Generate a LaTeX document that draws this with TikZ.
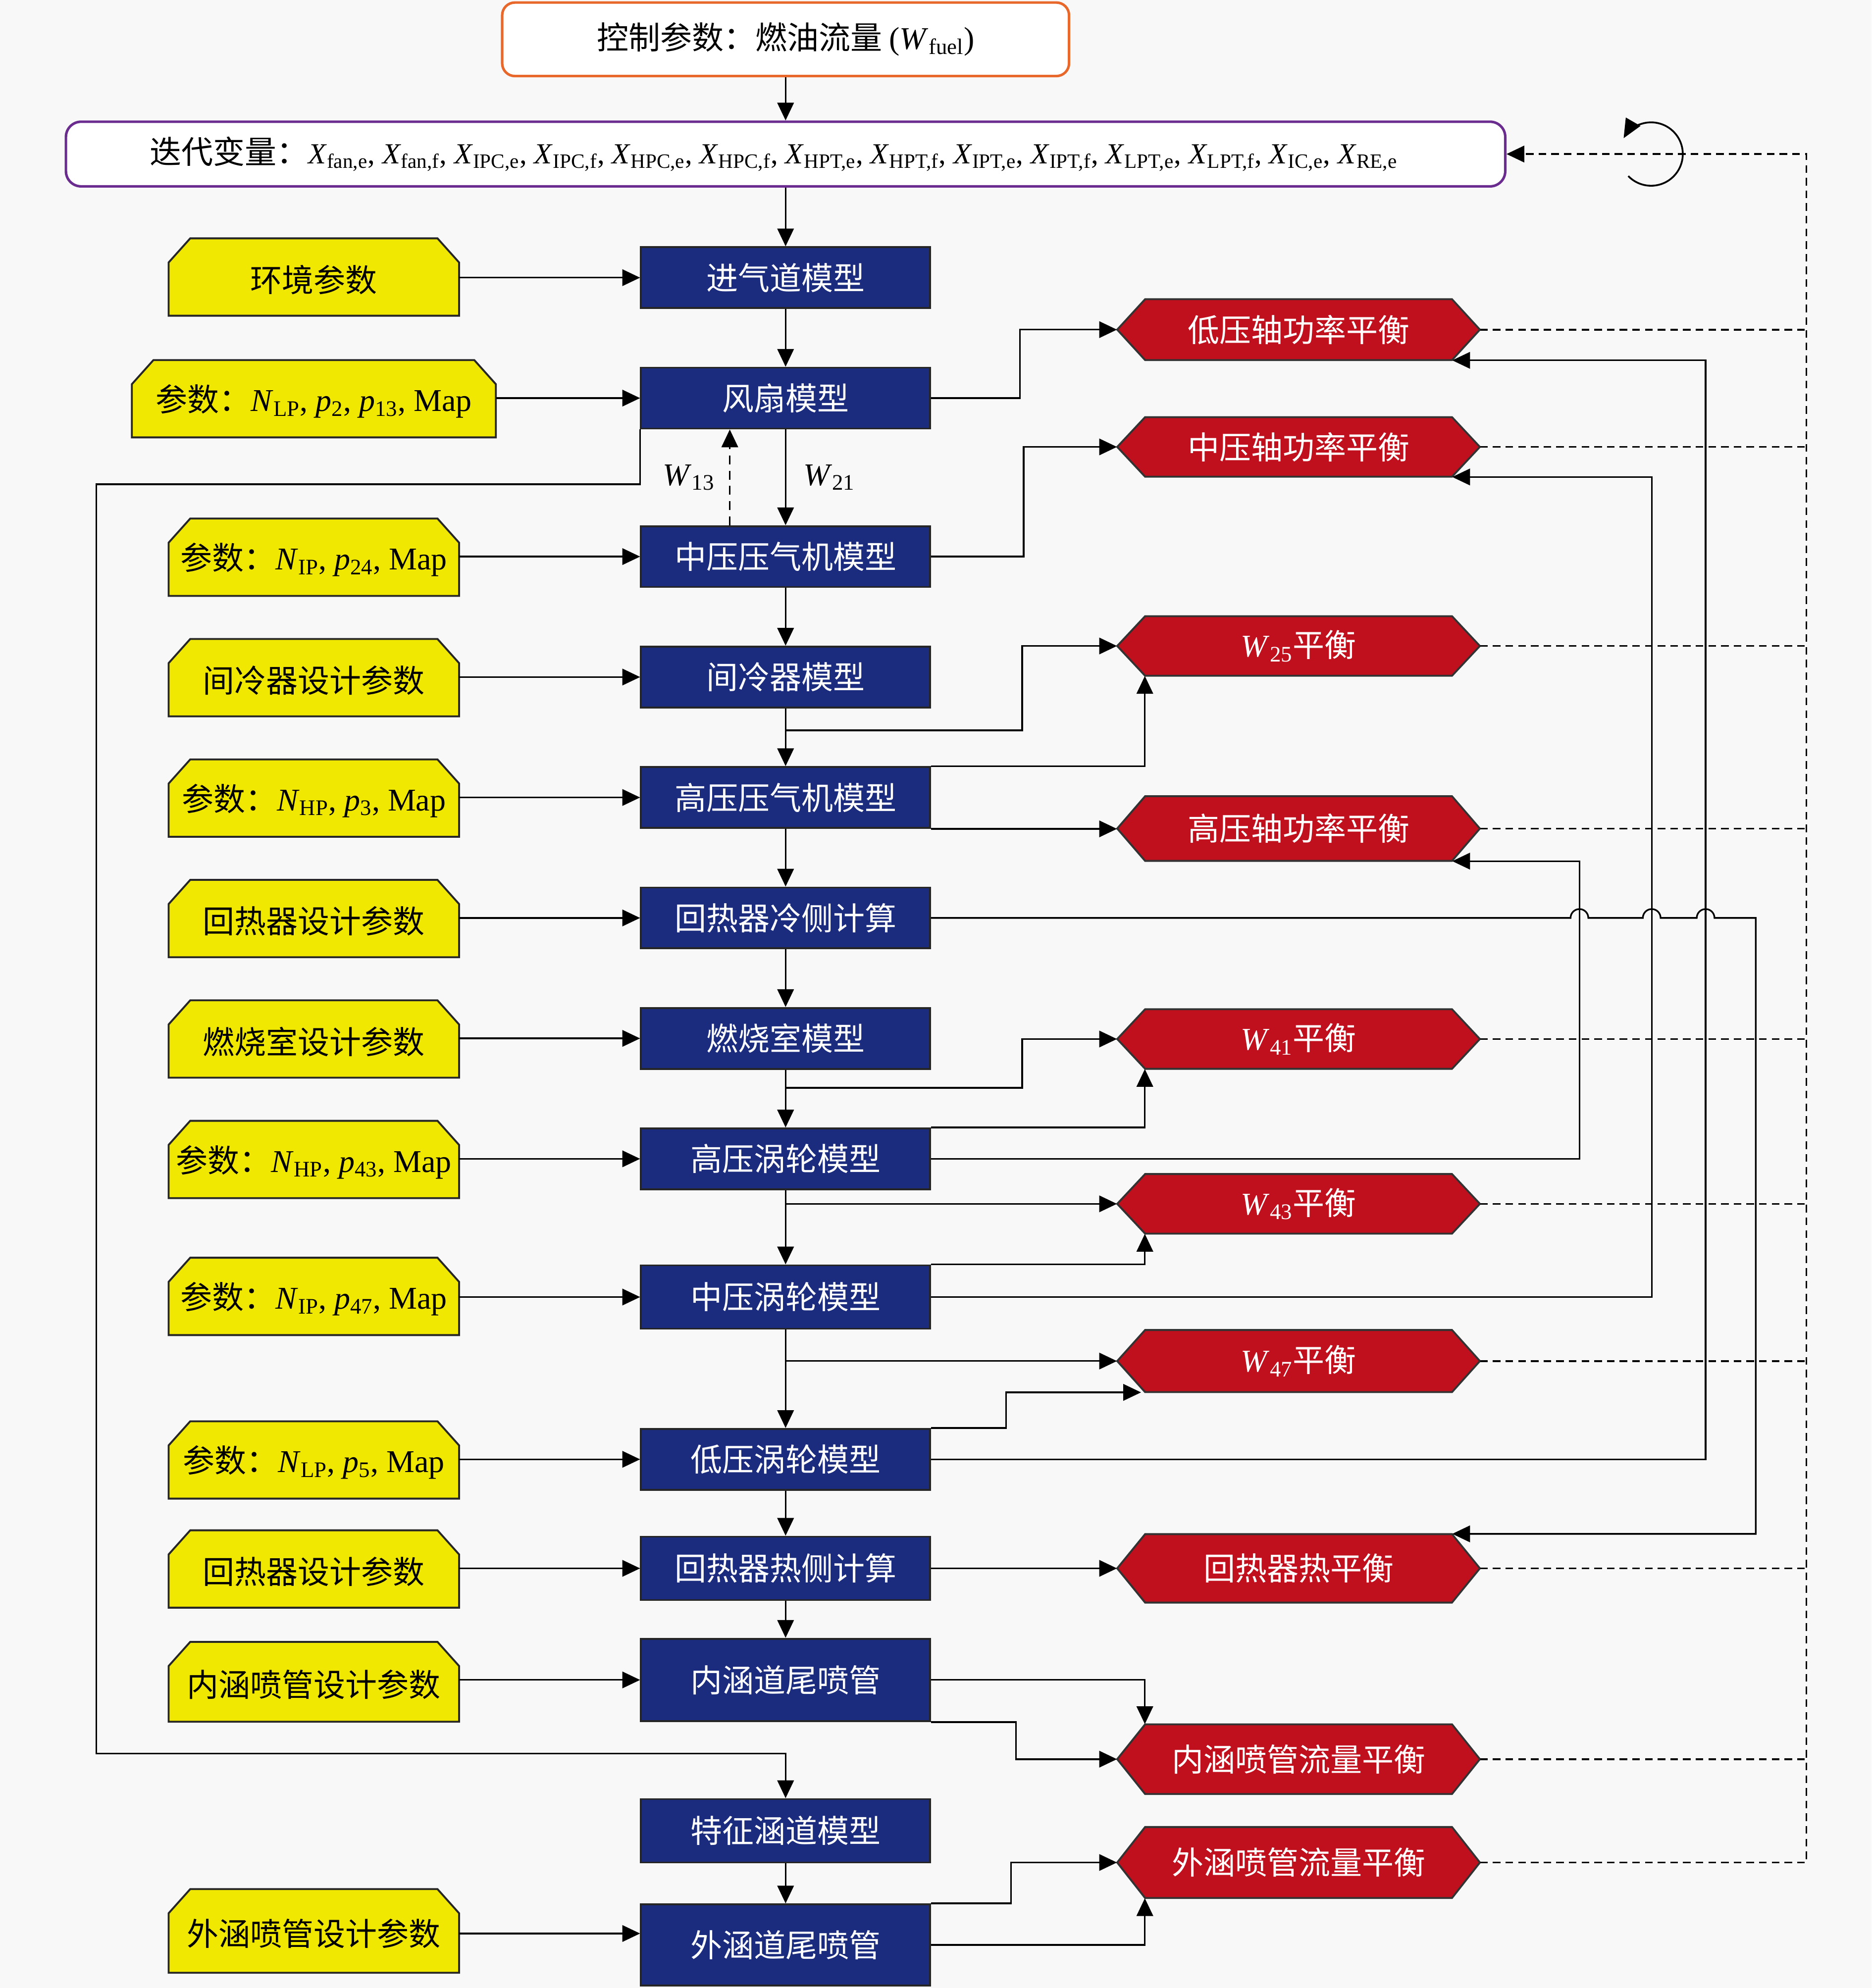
\documentclass[tikz,border=0pt]{standalone}
\usepackage{fontspec}
\setmainfont{Liberation Serif}
\newfontfamily\cjk{Noto Sans CJK SC}
\usetikzlibrary{arrows.meta,calc}
\definecolor{bg}{HTML}{F8F8F8}
\definecolor{bluebox}{HTML}{1B2C7E}
\definecolor{redbox}{HTML}{C0101E}
\definecolor{yelbox}{HTML}{F0E800}
\definecolor{orangeb}{HTML}{E8672A}
\definecolor{purpb}{HTML}{6B2C8F}
\newcommand\iv[2]{\textit{#1}\textsubscript{#2}}
\tikzset{
  cfont/.style={font=\cjk\fontsize{25}{30}\selectfont},
  mbox/.style={cfont, draw=black!85, line width=1.5pt, fill=bluebox, text=white,
    minimum width=228pt, minimum height=48pt, inner sep=0pt},
  ytext/.style={cfont, inner sep=0pt, text=black},
  htext/.style={cfont, inner sep=0pt, text=white},
  conn/.style={line width=1.3pt, -{Triangle[length=14pt,width=13pt]}},
  dline/.style={line width=1.4pt, dash pattern=on 6pt off 4pt},
}
\newcommand\yel[6]{%
  \filldraw[fill=yelbox, draw=black!85, line width=1.5pt]
    (#2,#5) -- (#2,{#3+19}) -- ({#2+17},#3) -- ({#4-17},#3) -- (#4,{#3+19}) -- (#4,#5) -- cycle;
  \node[ytext, minimum width={(#4-#2)*1pt}, minimum height={(#5-#3)*1pt}] (#1)
    at ({(#2+#4)/2},{(#3+#5)/2+2}) {#6};}
\newcommand\hexb[6]{%
  \filldraw[fill=redbox, draw=black!80, line width=1.5pt]
    (#2,{(#3+#5)/2}) -- ({#2+22},#3) -- ({#4-22},#3) -- (#4,{(#3+#5)/2}) -- ({#4-22},#5) -- ({#2+22},#5) -- cycle;
  \node[htext, minimum width={(#4-#2)*1pt}, minimum height={(#5-#3)*1pt}] (#1)
    at ({(#2+#4)/2},{(#3+#5)/2}) {#6};}
\begin{document}
\begin{tikzpicture}[x=1pt,y=-1pt]
\fill[bg] (0,0) rectangle (1476,1568);
\useasboundingbox (0,0) rectangle (1476,1568);

% top boxes
\node[cfont, draw=orangeb, line width=2pt, fill=white, rounded corners=10pt,
  minimum width=447pt, minimum height=58pt, inner sep=0pt] (ctrl) at (619.5,31)
  {控制参数：燃油流量 {\rmfamily(\iv{W}{fuel})}};
\node[cfont, draw=purpb, line width=2pt, fill=white, rounded corners=12pt,
  minimum width=1135pt, minimum height=51pt, inner sep=0pt] (iter) at (619.5,121.5)
  {\makebox[1135pt][l]{\hspace*{66pt}迭代变量：{\rmfamily\fontsize{23}{28}\selectfont \iv{X}{fan,e}, \iv{X}{fan,f}, \iv{X}{IPC,e}, \iv{X}{IPC,f}, \iv{X}{HPC,e}, \iv{X}{HPC,f}, \iv{X}{HPT,e}, \iv{X}{HPT,f}, \iv{X}{IPT,e}, \iv{X}{IPT,f}, \iv{X}{LPT,e}, \iv{X}{LPT,f}, \iv{X}{IC,e}, \iv{X}{RE,e}}}};

% blue model boxes
\node[mbox] (b1) at (619.5,219) {进气道模型};
\node[mbox] (b2) at (619.5,314) {风扇模型};
\node[mbox] (b3) at (619.5,439) {中压压气机模型};
\node[mbox] (b4) at (619.5,534) {间冷器模型};
\node[mbox] (b5) at (619.5,629) {高压压气机模型};
\node[mbox] (b6) at (619.5,724) {回热器冷侧计算};
\node[mbox] (b7) at (619.5,819) {燃烧室模型};
\node[mbox] (b8) at (619.5,914) {高压涡轮模型};
\node[mbox, minimum height=50pt] (b9) at (619.5,1023) {中压涡轮模型};
\node[mbox] (b10) at (619.5,1151) {低压涡轮模型};
\node[mbox, minimum height=50pt] (b11) at (619.5,1237) {回热器热侧计算};
\node[mbox, minimum height=65pt] (b12) at (619.5,1325) {内涵道尾喷管};
\node[mbox, minimum height=50pt] (b13) at (619.5,1444) {特征涵道模型};
\node[mbox, minimum height=64pt] (b14) at (619.5,1534) {外涵道尾喷管};

% yellow parameter boxes
\yel{y1}{133}{188}{362}{249}{环境参数}
\yel{y2}{104}{284}{391}{345}{参数：{\rmfamily\iv{N}{LP}, \iv{p}{2}, \iv{p}{13}, Map}}
\yel{y3}{133}{409}{362}{470}{参数：{\rmfamily\iv{N}{IP}, \iv{p}{24}, Map}}
\yel{y4}{133}{504}{362}{565}{间冷器设计参数}
\yel{y5}{133}{599}{362}{660}{参数：{\rmfamily\iv{N}{HP}, \iv{p}{3}, Map}}
\yel{y6}{133}{694}{362}{755}{回热器设计参数}
\yel{y7}{133}{789}{362}{850}{燃烧室设计参数}
\yel{y8}{133}{884}{362}{945}{参数：{\rmfamily\iv{N}{HP}, \iv{p}{43}, Map}}
\yel{y9}{133}{992}{362}{1053}{参数：{\rmfamily\iv{N}{IP}, \iv{p}{47}, Map}}
\yel{y10}{133}{1121}{362}{1182}{参数：{\rmfamily\iv{N}{LP}, \iv{p}{5}, Map}}
\yel{y11}{133}{1207}{362}{1268}{回热器设计参数}
\yel{y12}{133}{1295}{362}{1358}{内涵喷管设计参数}
\yel{y13}{133}{1490}{362}{1556}{外涵喷管设计参数}

% red balance hexagons
\hexb{h1}{881}{236}{1167}{284}{低压轴功率平衡}
\hexb{h2}{881}{329}{1167}{376}{中压轴功率平衡}
\hexb{h3}{881}{486}{1167}{533}{{\rmfamily\iv{W}{25}}平衡}
\hexb{h4}{881}{628}{1167}{679}{高压轴功率平衡}
\hexb{h5}{881}{796}{1167}{843}{{\rmfamily\iv{W}{41}}平衡}
\hexb{h6}{881}{926}{1167}{973}{{\rmfamily\iv{W}{43}}平衡}
\hexb{h7}{881}{1049}{1167}{1098}{{\rmfamily\iv{W}{47}}平衡}
\hexb{h8}{881}{1210}{1167}{1264}{回热器热平衡}
\hexb{h9}{881}{1360}{1167}{1415}{内涵喷管流量平衡}
\hexb{h10}{881}{1441}{1167}{1497}{外涵喷管流量平衡}

% helper coordinates
\coordinate (xA) at (806,0);
\coordinate (vHP) at (1245.5,0);
\coordinate (vIP) at (1302.5,0);
\coordinate (vLP) at (1345,0);
\coordinate (vRE) at (1384.5,0);
\coordinate (vD) at (1424.5,0);
\coordinate (j4) at (619.5,576);
\coordinate (j7) at (619.5,858);
\coordinate (j8) at (619.5,949.5);
\coordinate (j9) at (619.5,1073.5);
\coordinate (L1) at (76,382);
\coordinate (L2) at (76,1383);
\coordinate (cc) at (1302,121.5);

% top connectors
\draw[conn] (ctrl.south) -- (iter.north);
\draw[conn] (iter.south) -- (b1.north);

% yellow -> blue
\foreach \i in {1,...,12} {\draw[conn] (y\i.east |- b\i.west) -- (b\i.west);}
\draw[conn] (y13.east) -- (y13.east -| b14.west);

% main chain
\draw[conn] (b1) -- (b2);
\draw[conn] (b2.south) -- (b3.north) node[midway, right=10pt, font=\fontsize{25}{30}\selectfont] {\iv{W}{21}};
\draw[line width=1.3pt, dash pattern=on 7pt off 5pt, -{Triangle[length=14pt,width=13pt]}]
  ([xshift=-44pt]b3.north) -- ([xshift=-44pt]b2.south) node[midway, left=8pt, font=\fontsize{25}{30}\selectfont] {\iv{W}{13}};
\foreach \a/\b in {b3/b4,b4/b5,b5/b6,b6/b7,b7/b8,b8/b9,b9/b10,b10/b11,b11/b12,b13/b14}
  {\draw[conn] (\a) -- (\b);}

% bypass loop on the left
\draw[conn] (b2.south west) |- (L1) -- (L2) -| (b13.north);

% right side connectors
\draw[conn] (b2.east) -- ++(70,0) |- (h1.west);
\draw[conn] (b3.east) -- ++(73,0) |- (h2.west);
\draw[conn] (j4) -- (j4 -| xA) |- (h3.west);
\draw[conn] (b5.north east) -| ([xshift=22pt]h3.south west);
\draw[conn] (b5.south east) -- (b5.south east -| h4.west);
\draw[conn] (b6.east) -- (1238.5,724) arc (180:360:7) -- (1295.5,724) arc (180:360:7)
  -- (1338,724) arc (180:360:7) -- (b6.east -| vRE) |- ([xshift=-22pt]h8.north east);
\draw[conn] (j7) -- (j7 -| xA) |- (h5.west);
\draw[conn] (b8.north east) -| ([xshift=22pt]h5.south west);
\draw[conn] (b8.east) -- (b8.east -| vHP) |- ([xshift=-22pt]h4.south east);
\draw[conn] (j8) -- (h6.west);
\draw[conn] (b9.north east) -| ([xshift=22pt]h6.south west);
\draw[conn] (b9.east) -- (b9.east -| vIP) |- ([xshift=-22pt]h2.south east);
\draw[conn] (j9) -- (h7.west);
\draw[conn] (b10.north east) -- ++(59,0) |- ([xshift=19pt]h7.south west);
\draw[conn] (b10.east) -- (b10.east -| vLP) |- ([xshift=-22pt]h1.south east);
\draw[conn] (b11.east) -- (b11.east -| h8.west);
\draw[conn] (b12.east) -| ([xshift=22pt]h9.north west);
\draw[conn] (b12.south east) -- ++(67,0) |- (h9.west);
\draw[conn] (b14.north east) -- ++(63,0) |- (h10.west);
\draw[conn] (b14.east) -| ([xshift=22pt]h10.south west);

% dashed feedback
\foreach \i in {1,...,9} {\draw[dline] (h\i.east) -- (h\i.east -| vD);}
\draw[dline, -{Triangle[length=14pt,width=13pt]}] (h10.east) -| (vD |- iter.east) -- (iter.east);

% iteration symbol
\draw[line width=1.4pt, -{Triangle[length=15pt,width=13pt]}] ([shift={(136:25)}]cc) arc (136:-150:25);
\end{tikzpicture}
\end{document}
